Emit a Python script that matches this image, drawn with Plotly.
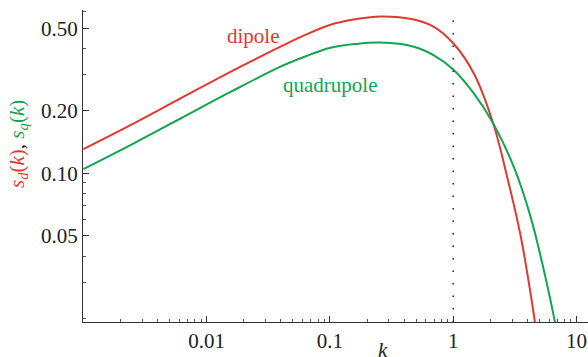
import plotly.graph_objects as go

# Data
k_dipole = [0.001, 0.00241, 0.00614, 0.0156, 0.0397, 0.063, 0.101, 0.16, 0.257, 0.479,
            0.697, 1.0, 1.47, 2.11, 2.74, 3.51, 4.24, 4.59, 4.63]
s_dipole = [0.131, 0.171, 0.230, 0.309, 0.408, 0.465, 0.521, 0.553, 0.571, 0.552,
            0.509, 0.424, 0.303, 0.174, 0.096, 0.0505, 0.0264, 0.0193, 0.0185]

k_quad = [0.001, 0.00241, 0.00614, 0.0156, 0.0397, 0.063, 0.101, 0.16, 0.257, 0.479,
          0.697, 1.0, 1.47, 2.11, 3.10, 4.24, 5.43, 6.67, 6.75]
s_quad = [0.105, 0.137, 0.184, 0.247, 0.327, 0.366, 0.403, 0.420, 0.427, 0.408,
          0.371, 0.317, 0.243, 0.174, 0.1076, 0.0618, 0.0342, 0.0193, 0.0185]

x_tickvals = [0.01, 0.1, 1, 10]
x_ticktext = ["0.01", "0.1", "1", "10"]
y_tickvals = [0.05, 0.10, 0.20, 0.50]
y_ticktext = ["0.05", "0.10", "0.20", "0.50"]

RED = "#E2382F"
GREEN = "#12A650"
FONT = "Liberation Serif"

fig = go.Figure()
fig.add_trace(go.Scatter(x=k_dipole, y=s_dipole, mode="lines",
                         line=dict(color=RED, width=2, shape="spline", smoothing=1.0),
                         name="dipole", hoverinfo="skip"))
fig.add_trace(go.Scatter(x=k_quad, y=s_quad, mode="lines",
                         line=dict(color=GREEN, width=2, shape="spline", smoothing=1.0),
                         name="quadrupole", hoverinfo="skip"))

fig.add_shape(type="line", xref="x", yref="paper", x0=1, x1=1, y0=0, y1=1,
              line=dict(color="#222", width=1.5, dash="1.5px,11px"), layer="below")

fig.update_layout(
    width=588, height=357,
    margin=dict(l=83, r=0, t=10, b=35),
    paper_bgcolor="white", plot_bgcolor="white",
    showlegend=False,
    font=dict(family=FONT, size=21, color="#222"),
    xaxis=dict(type="log", range=[-3.003, 1.093],
               tickvals=x_tickvals, ticktext=x_ticktext,
               ticks="inside", ticklen=6, tickcolor="#333",
               showline=True, linecolor="#333", linewidth=1,
               showgrid=False, zeroline=False,
               minor=dict(ticks="inside", ticklen=3, dtick="D1", tickcolor="#555", showgrid=False)),
    yaxis=dict(type="log", range=[-1.7155, -0.2125],
               tickvals=y_tickvals, ticktext=y_ticktext,
               ticks="inside", ticklen=6, tickcolor="#333",
               showline=True, linecolor="#333", linewidth=1,
               showgrid=False, zeroline=False,
               minor=dict(ticks="inside", ticklen=3, dtick="D1", tickcolor="#555", showgrid=False)),
)

fig.add_annotation(text="dipole", xref="paper", yref="paper", x=0.337, y=0.917,
                   xanchor="center", yanchor="middle",
                   showarrow=False, font=dict(family=FONT, size=21, color=RED))
fig.add_annotation(text="quadrupole", xref="paper", yref="paper", x=0.489, y=0.759,
                   xanchor="center", yanchor="middle",
                   showarrow=False, font=dict(family=FONT, size=21, color=GREEN))
fig.add_annotation(text="<i>k</i>", xref="paper", yref="paper", x=0.594, y=-0.091,
                   xanchor="center", yanchor="middle",
                   showarrow=False, font=dict(family=FONT, size=21, color="#222"))
fig.add_annotation(
    text=f'<span style="color:{RED}"><i>s<sub>d</sub></i>(<i>k</i>)</span>, '
         f'<span style="color:{GREEN}"><i>s<sub>q</sub></i>(<i>k</i>)</span>',
    xref="paper", yref="paper", x=-0.129, y=0.57, textangle=-90,
    xanchor="center", yanchor="middle",
    showarrow=False, font=dict(family=FONT, size=21))

fig.write_html("out.html", config={"displayModeBar": False},
               post_script="document.body.style.margin='0';document.body.style.overflow='hidden';")
